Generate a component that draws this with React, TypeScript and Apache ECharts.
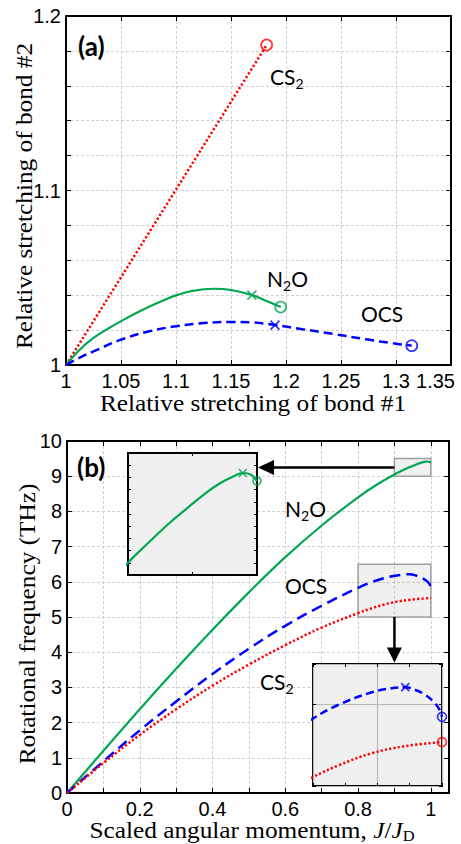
import React, { useEffect, useRef } from 'react';
import * as echarts from 'echarts';

// ---------- Panel (a): relative stretching of bonds ----------
const aBond1_CS2 = [1, 1.1824];
const aBond2_CS2 = [1, 1.1834];
const aBond1_N2O = [1, 1.012, 1.025, 1.04, 1.06, 1.075, 1.09, 1.1, 1.115, 1.135, 1.15, 1.169, 1.1824, 1.1952];
const aBond2_N2O = [1, 1.0085, 1.0155, 1.0215, 1.0285, 1.0333, 1.0374, 1.0399, 1.0425, 1.0437, 1.043, 1.0401, 1.0367, 1.0332];
const aBond1_OCS = [1, 1.0125, 1.025, 1.05, 1.075, 1.1, 1.125, 1.15, 1.17, 1.19, 1.215, 1.243, 1.273, 1.2975, 1.3143];
const aBond2_OCS = [1, 1.0042, 1.0078, 1.0145, 1.0192, 1.0222, 1.024, 1.0247, 1.0244, 1.0229, 1.0205, 1.0178, 1.0147, 1.0124, 1.0111];
const aEndCS2 = [1.1824, 1.1834];
const aEndN2O = [1.1952, 1.0332];
const aEndOCS = [1.3143, 1.0111];
const aCrossN2O = [1.169, 1.0401];
const aCrossOCS = [1.19, 1.0229];
const aXTickLabels = ['1', '1.05', '1.1', '1.15', '1.2', '1.25', '1.3', '1.35'];
const aYTickLabels = ['1', '1.1', '1.2'];

// ---------- Panel (b): rotational frequency ----------
const bJ_N2O = [0, 0.1, 0.2, 0.3, 0.4, 0.5, 0.6, 0.7, 0.8, 0.85, 0.9, 0.915, 0.93, 0.945, 0.96, 0.972, 0.982, 0.989, 0.995, 1.0];
const bF_N2O = [0, 1.2, 2.38, 3.53, 4.64, 5.7, 6.7, 7.6, 8.4, 8.75, 9.05, 9.128, 9.203, 9.27, 9.335, 9.378, 9.405, 9.418, 9.412, 9.385];
const bJ_OCS = [0, 0.1, 0.2, 0.3, 0.4, 0.5, 0.6, 0.7, 0.8, 0.84, 0.89, 0.92, 0.943, 0.959, 0.974, 0.987, 0.995, 1.0];
const bF_OCS = [0, 0.9, 1.78, 2.6, 3.38, 4.1, 4.75, 5.32, 5.83, 6.0, 6.15, 6.2, 6.215, 6.18, 6.12, 6.035, 5.955, 5.85];
const bJ_CS2 = [0, 0.1, 0.2, 0.3, 0.4, 0.5, 0.6, 0.7, 0.8, 0.84, 0.89, 0.943, 1.0];
const bF_CS2 = [0, 0.85, 1.65, 2.38, 3.05, 3.65, 4.2, 4.7, 5.11, 5.255, 5.4, 5.49, 5.54];
const bCrossN2O = [0.989, 9.418];
const bEndN2O = [1.0, 9.385];
const bCrossOCS = [0.943, 6.215];
const bEndOCS = [1.0, 5.85];
const bEndCS2 = [1.0, 5.54];
const bXTickLabels = ['0', '0.2', '0.4', '0.6', '0.8', '1'];
const bYTickLabels = ['0', '1', '2', '3', '4', '5', '6', '7', '8', '9', '10'];
const zoom1Range = { x: [0.9, 1.0], y: [9.0, 9.5] };
const zoom2Range = { x: [0.8, 1.0], y: [5.0, 6.5] };

// ---------- layout & style ----------
const A = { left: 66, top: 16, width: 385, height: 349 };
const B = { left: 67, top: 441, width: 382, height: 352 };
const I1 = { left: 128, top: 453, width: 129, height: 122 };
const I2 = { left: 313, top: 664, width: 129, height: 122 };
const B_XMAX = 1.05;

const GREEN = '#00a651';
const BLUE = '#0000ff';
const RED = '#ff0000';
const SANS = '"Liberation Sans", Arial, sans-serif';
const SERIF = '"Liberation Serif", "Times New Roman", serif';
const CAL = 'Lato, Carlito, Calibri, sans-serif';
const CROSS = 'path://M0,0L10,10M10,0L0,10';

const pair = (xs: number[], ys: number[]) => xs.map((x, i) => [x, ys[i]]);
const fmt = (v: number) => String(Math.round(v * 1000) / 1000);
const pick = (labels: string[], shiftLast = false) => (v: number) => {
  const s = fmt(v);
  if (!labels.includes(s)) return '';
  return shiftLast && s === labels[labels.length - 1] ? `{last|${s}}` : s;
};

const gridLine = { show: true, lineStyle: { color: '#d0d0d0', width: 1, type: [3, 2] } };
const frame = { show: true, onZero: false, lineStyle: { color: '#000', width: 2 } };
const tick = (len: number) => ({ show: true, inside: true, length: len, lineStyle: { color: '#000', width: 1 } });
const labelStyle = (labels: string[], margin: number, shiftLast = false) => ({
  show: true, formatter: pick(labels, shiftLast), color: '#000', fontFamily: SANS, fontSize: 20, margin,
  rich: { last: { color: '#000', fontFamily: SANS, fontSize: 20, padding: [0, 31, 0, 0] } },
});
const noLabel = { show: false };

function axis(gridIndex: number, position: string, min: number, max: number, interval: number, extra: any) {
  return {
    type: 'value', gridIndex, position, min, max, interval,
    axisLine: frame, axisTick: tick(5), axisLabel: noLabel, splitLine: { show: false },
    ...extra,
  };
}
function insetAxis(gridIndex: number, position: string, min: number, max: number, interval: number, extra: any) {
  return {
    type: 'value', gridIndex, position, min, max, interval, z: 4,
    axisLine: { show: false, onZero: false }, axisTick: tick(3), axisLabel: noLabel, splitLine: { show: false },
    ...extra,
  };
}

function line(xi: number, data: number[][], color: string, type: any, width: number, z: number, extra: any = {}) {
  return {
    type: 'line', xAxisIndex: xi, yAxisIndex: xi, data, symbol: 'none', showSymbol: false,
    smooth: 0.4, clip: true, silent: true, z,
    lineStyle: { color, width, type, cap: 'butt' },
    ...extra,
  };
}
function markers(xi: number, pts: { p: number[]; c: string }[], symbol: string, size: number, z: number) {
  return {
    type: 'scatter', xAxisIndex: xi, yAxisIndex: xi, symbol, symbolSize: size, clip: false, silent: true, z,
    itemStyle: { color: 'transparent', borderWidth: 1.7 },
    data: pts.map((d) => ({ value: d.p, itemStyle: { color: 'transparent', borderColor: d.c, borderWidth: 1.7 } })),
  };
}

function label(text: string, x: number, y: number, size = 21, sub = 14, shift = 14) {
  return {
    type: 'text', x, y, z: 20, silent: true,
    style: {
      text, fill: '#000', align: 'left', textAlign: 'left', verticalAlign: 'middle', textVerticalAlign: 'middle',
      rich: {
        m: { fontFamily: CAL, fontSize: size, fill: '#000' },
        s: { fontFamily: CAL, fontSize: sub, fill: '#000', padding: [shift, 0, 0, 0] },
      },
    },
  };
}
function title(text: string, x: number, y: number, rotate: boolean, rich?: any) {
  return {
    type: 'text', x, y, z: 20, silent: true, rotation: rotate ? Math.PI / 2 : 0, scaleX: 1.1,
    style: {
      text, fill: '#000', font: `23px ${SERIF}`, align: 'center', textAlign: 'center',
      verticalAlign: 'middle', textVerticalAlign: 'middle', rich,
    },
  };
}

export default function App() {
  const ref = useRef<HTMLDivElement>(null);
  useEffect(() => {
    document.body.style.margin = '0';
    const chart = echarts.init(ref.current!, undefined, { renderer: 'svg' });

    const bx = (v: number) => B.left + (v / B_XMAX) * B.width;
    const by = (v: number) => B.top + B.height - (v / 10) * B.height;
    const a1y = by((zoom1Range.y[0] + zoom1Range.y[1]) / 2);
    const a1x0 = bx(zoom1Range.x[0]);
    const a1tip = I1.left + I1.width + 1;
    const a2x = bx(zoom1Range.x[0]);
    const a2y0 = by(zoom2Range.y[0]);
    const a2tip = I2.top - 1.5;

    const option: any = {
      animation: false,
      backgroundColor: '#fff',
      grid: [
        { ...A, containLabel: false, outerBoundsMode: 'none', show: false },
        { ...B, containLabel: false, outerBoundsMode: 'none', show: false },
        { ...I1, containLabel: false, outerBoundsMode: 'none', show: true, z: 3, backgroundColor: '#f0f0f0', borderColor: '#000', borderWidth: 2 },
        { ...I2, containLabel: false, outerBoundsMode: 'none', show: true, z: 3, backgroundColor: '#f0f0f0', borderColor: '#000', borderWidth: 2 },
      ],
      xAxis: [
        axis(0, 'bottom', 1, 1.35, 0.05, { axisLabel: labelStyle(aXTickLabels, 6, true), splitLine: gridLine }),
        axis(0, 'top', 1, 1.35, 0.05, {}),
        axis(1, 'bottom', 0, B_XMAX, 0.1, { axisLabel: labelStyle(bXTickLabels, 6), splitLine: gridLine }),
        axis(1, 'top', 0, B_XMAX, 0.1, {}),
        insetAxis(2, 'bottom', zoom1Range.x[0], zoom1Range.x[1], 0.05, {}),
        insetAxis(2, 'top', zoom1Range.x[0], zoom1Range.x[1], 0.05, {}),
        insetAxis(3, 'bottom', zoom2Range.x[0], zoom2Range.x[1], 0.1, {
          splitLine: { show: true, lineStyle: { color: '#b8b8b8', width: 1.2, type: 'solid' } },
          minorTick: { show: true, splitNumber: 2, length: 3, lineStyle: { color: '#000', width: 1 } },
        }),
        insetAxis(3, 'top', zoom2Range.x[0], zoom2Range.x[1], 0.1, {
          minorTick: { show: true, splitNumber: 2, length: 3, lineStyle: { color: '#000', width: 1 } },
        }),
      ],
      yAxis: [
        axis(0, 'left', 1, 1.2, 0.02, { axisLabel: labelStyle(aYTickLabels, 5), splitLine: gridLine }),
        axis(0, 'right', 1, 1.2, 0.02, {}),
        axis(1, 'left', 0, 10, 1, { axisLabel: labelStyle(bYTickLabels, 5), splitLine: gridLine }),
        axis(1, 'right', 0, 10, 1, {}),
        insetAxis(2, 'left', zoom1Range.y[0], zoom1Range.y[1], 0.05, {}),
        insetAxis(2, 'right', zoom1Range.y[0], zoom1Range.y[1], 0.05, {}),
        insetAxis(3, 'left', zoom2Range.y[0], zoom2Range.y[1], 1, {
          splitLine: { show: true, lineStyle: { color: '#b8b8b8', width: 1.2, type: 'solid' } },
        }),
        insetAxis(3, 'right', zoom2Range.y[0], zoom2Range.y[1], 1, {}),
      ],
      series: [
        // panel (a)
        line(0, pair(aBond1_CS2, aBond2_CS2), RED, [2.2, 2.2], 2.5, 2, { smooth: false }),
        line(0, pair(aBond1_N2O, aBond2_N2O), GREEN, 'solid', 2.2, 2),
        line(0, pair(aBond1_OCS, aBond2_OCS), BLUE, [9, 5], 2.5, 2),
        markers(0, [{ p: aEndCS2, c: RED }, { p: aEndN2O, c: GREEN }, { p: aEndOCS, c: BLUE }], 'circle', 11, 3),
        markers(0, [{ p: aCrossN2O, c: GREEN }, { p: aCrossOCS, c: BLUE }], CROSS, 9, 3),
        // panel (b)
        line(2, pair(bJ_N2O, bF_N2O), GREEN, 'solid', 2.2, 2, {
          markArea: {
            silent: true, z: 1,
            itemStyle: { color: 'rgba(150,150,150,0.14)', borderColor: '#a0a0a0', borderWidth: 1.5 },
            data: [
              [{ xAxis: zoom1Range.x[0], yAxis: zoom1Range.y[0] }, { xAxis: zoom1Range.x[1], yAxis: zoom1Range.y[1] }],
              [{ xAxis: zoom2Range.x[0], yAxis: zoom2Range.y[0] }, { xAxis: zoom2Range.x[1], yAxis: zoom2Range.y[1] }],
            ],
          },
        }),
        line(2, pair(bJ_OCS, bF_OCS), BLUE, [11, 6], 2.5, 2),
        line(2, pair(bJ_CS2, bF_CS2), RED, [2.2, 2.2], 2.5, 2),
        // inset 1 (N2O zoom)
        line(4, pair(bJ_N2O, bF_N2O), GREEN, 'solid', 2.2, 5),
        markers(4, [{ p: bEndN2O, c: GREEN }], 'circle', 8, 6),
        markers(4, [{ p: bCrossN2O, c: GREEN }], CROSS, 8, 6),
        // inset 2 (OCS / CS2 zoom)
        line(6, pair(bJ_OCS, bF_OCS), BLUE, [8, 4.5], 2.5, 5),
        line(6, pair(bJ_CS2, bF_CS2), RED, [2.2, 2.2], 2.5, 5),
        markers(6, [{ p: bEndOCS, c: BLUE }, { p: bEndCS2, c: RED }], 'circle', 9, 6),
        markers(6, [{ p: bCrossOCS, c: BLUE }], CROSS, 8, 6),
      ],
      graphic: [
        // axis titles
        title('Relative stretching of bond #2', 24, 196, true),
        title('Relative stretching of bond #1', 253, 403, false),
        title('Rotational frequency (THz)', 27, 624, true),
        title('{r|Scaled angular momentum, }{i|J}{r|/}{i|J}{s|D}', 252, 830, false, {
          r: { fontFamily: SERIF, fontSize: 23, fill: '#000' },
          i: { fontFamily: SERIF, fontSize: 23, fontStyle: 'italic', fill: '#000' },
          s: { fontFamily: SERIF, fontSize: 15, fill: '#000', padding: [12, 0, 0, 0] },
        }),
        // panel letters
        { type: 'text', x: 78, y: 46, z: 20, silent: true, style: { text: '(a)', fill: '#000', font: `bold 26px ${CAL}`, align: 'left', textAlign: 'left', verticalAlign: 'middle', textVerticalAlign: 'middle' } },
        { type: 'text', x: 77, y: 467, z: 20, silent: true, style: { text: '(b)', fill: '#000', font: `bold 26px ${CAL}`, align: 'left', textAlign: 'left', verticalAlign: 'middle', textVerticalAlign: 'middle' } },
        // molecule labels
        label('{m|CS}{s|2}', 270, 76),
        label('{m|N}{s|2}{m|O}', 267, 278),
        label('{m|OCS}', 361, 313),
        label('{m|N}{s|2}{m|O}', 285, 508),
        label('{m|OCS}', 285, 585),
        label('{m|CS}{s|2}', 260, 681),
        // arrows
        { type: 'line', z: 20, silent: true, shape: { x1: a1x0, y1: a1y, x2: a1tip + 14, y2: a1y }, style: { stroke: '#000', lineWidth: 2.5 } },
        { type: 'polygon', z: 20, silent: true, shape: { points: [[a1tip, a1y], [a1tip + 16, a1y - 7.5], [a1tip + 16, a1y + 7.5]] }, style: { fill: '#000' } },
        { type: 'line', z: 20, silent: true, shape: { x1: a2x, y1: a2y0, x2: a2x, y2: a2tip - 13 }, style: { stroke: '#000', lineWidth: 2.5 } },
        { type: 'polygon', z: 20, silent: true, shape: { points: [[a2x, a2tip], [a2x - 7.5, a2tip - 15], [a2x + 7.5, a2tip - 15]] }, style: { fill: '#000' } },
      ],
    };
    chart.setOption(option);
    return () => chart.dispose();
  }, []);
  return <div ref={ref} style={{ position: 'absolute', left: 0, top: 0, width: 461, height: 844 }} />;
}
